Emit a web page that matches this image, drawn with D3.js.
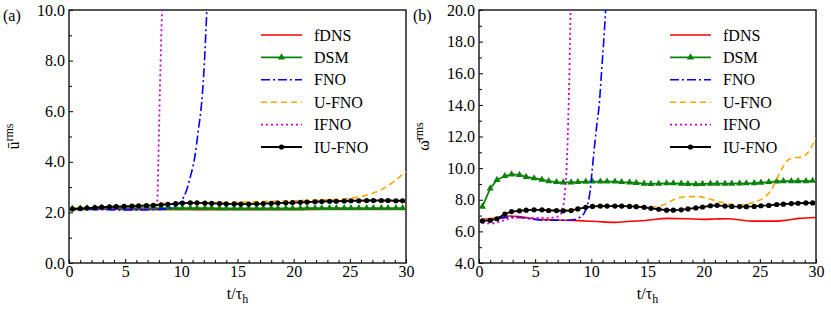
<!DOCTYPE html>
<html>
<head>
<meta charset="utf-8">
<script src="https://cdn.jsdelivr.net/npm/d3@7"></script>
<style>
body { margin: 0; background: #fff; }
text { font-family: "Liberation Serif", "Times New Roman", serif; fill: #000; }
</style>
</head>
<body>
<div id="chart"></div>
<script>
// sample times of the marked series (DSM, IU-FNO)
var tMarks = [0.3,1.0,1.6,2.3,2.9,3.6,4.2,4.9,5.6,6.2, 6.9,7.5,8.2,8.8,9.5,10.1,10.8,11.4,12.1,12.7,
	13.4,14.0,14.7,15.3,16.0,16.7,17.3,18.0,18.6,19.3, 19.9,20.6,21.2,21.9,22.5,23.2,23.8,24.5,25.1,25.8,
	26.5,27.1,27.8,28.4,29.1,29.7];

// panel (a): u rms
var uFDNS = [[0.3,2.15],[3,2.13],[6,2.12],[9,2.12],[12,2.11],[15,2.12],[18,2.12],[21,2.12],[24,2.13],[27,2.13],[30,2.15]];
var uDSM = [2.15,2.16,2.17,2.17,2.18,2.18,2.18,2.17,2.17,2.17, 2.17,2.17,2.17,2.17,2.17,2.17,2.17,2.17,2.17,2.17,
	2.16,2.16,2.16,2.16,2.16,2.16,2.16,2.16,2.16,2.16, 2.16,2.16,2.17,2.17,2.17,2.17,2.17,2.17,2.17,2.17,
	2.17,2.17,2.17,2.17,2.17,2.17];
var uFNO = [[0.3,2.15],[2,2.12],[4,2.1],[6,2.1],[8,2.12],[9,2.18],[9.6,2.3],[10,2.45],[10.4,2.8],[10.8,3.4],
	[11.2,4.2],[11.5,5.2],[11.8,6.3],[12.0,7.5],[12.15,8.8],[12.3,10.3]];
var uUFNO = [[0.3,2.15],[3,2.22],[6,2.28],[9,2.35],[12,2.38],[15,2.4],[18,2.44],[21,2.47],[23,2.5],[25,2.56],
	[26.5,2.68],[28,2.95],[29,3.25],[30,3.62]];
var uIFNO = [[0.3,2.15],[3,2.15],[6,2.15],[7.6,2.15],[7.85,2.4],[7.95,4],[8.1,7],[8.3,10.3]];
var uIUFNO = [2.13,2.15,2.17,2.19,2.21,2.22,2.23,2.24,2.25,2.26, 2.27,2.28,2.3,2.32,2.35,2.37,2.38,2.38,2.37,2.36,
	2.35,2.34,2.34,2.33,2.33,2.34,2.35,2.36,2.37,2.38, 2.39,2.4,2.41,2.42,2.43,2.44,2.44,2.45,2.46,2.46,
	2.47,2.47,2.47,2.47,2.46,2.46];

// panel (b): omega rms
var wFDNS = [[0.3,6.76],[1.5,6.85],[2.7,6.97],[3.6,6.93],[5.3,6.76],[7,6.72],[8.8,6.68],[10.5,6.62],[12,6.57],
	[13.5,6.64],[14.8,6.69],[16.8,6.82],[18.5,6.8],[19.9,6.76],[21,6.78],[22.2,6.8],[23.3,6.72],[24.3,6.65],
	[26.5,6.65],[27.5,6.72],[28.5,6.82],[30,6.88]];
var wDSM = [7.56,8.72,9.25,9.5,9.6,9.57,9.45,9.36,9.27,9.18, 9.12,9.1,9.1,9.12,9.14,9.15,9.15,9.15,9.15,9.12,
	9.1,9.06,9.02,9.0,9.02,9.04,9.04,9.02,9.0,8.98, 9.0,9.02,9.02,9.02,9.02,9.03,9.04,9.05,9.08,9.12,
	9.16,9.18,9.18,9.18,9.18,9.2];
var wFNO = [[0.3,6.7],[1.5,6.8],[3,6.9],[4,6.85],[5,6.75],[6,6.7],[7.5,6.7],[8.5,6.75],[9.0,6.9],[9.4,7.2],
	[9.7,7.8],[9.9,8.6],[10.05,9.7],[10.3,11.5],[10.5,12.8],[10.7,14],[10.9,16],[11.1,18],[11.3,20.3]];
var wUFNO = [[0.3,6.7],[1.5,6.85],[2.5,7.15],[3.5,7.3],[5,7.35],[7,7.35],[8.5,7.4],[10,7.55],[12,7.6],[14,7.6],
	[15.5,7.55],[16.5,7.7],[17.5,8.05],[18.5,8.2],[19.5,8.2],[20.5,8.05],[21.5,7.85],[22.5,7.7],[23.5,7.68],
	[24.5,7.85],[25.5,8.2],[26,8.6],[26.5,9.3],[27,10.0],[27.5,10.5],[28,10.65],[28.7,10.7],[29.3,11.0],[30,11.9]];
var wIFNO = [[0.3,6.55],[1,6.5],[2,6.65],[3,6.85],[4,6.85],[5,6.85],[6,6.85],[6.8,6.9],[7.2,7.0],[7.45,7.5],
	[7.6,8.1],[7.7,9],[7.8,10],[7.9,12],[7.98,14],[8.05,16],[8.1,18],[8.17,20.3]];
var wIUFNO = [6.66,6.7,6.8,7.1,7.25,7.3,7.34,7.36,7.36,7.32, 7.32,7.3,7.32,7.42,7.52,7.58,7.6,7.6,7.6,7.6,
	7.58,7.56,7.52,7.46,7.4,7.34,7.34,7.36,7.42,7.48, 7.54,7.62,7.65,7.6,7.58,7.57,7.56,7.58,7.62,7.64,
	7.7,7.72,7.76,7.78,7.8,7.8];

var legendNames = ["fDNS", "DSM", "FNO", "U-FNO", "IFNO", "IU-FNO"];
var xTicks = [0, 5, 10, 15, 20, 25, 30];
var uTicks = [0, 2, 4, 6, 8, 10];
var wTicks = [4, 6, 8, 10, 12, 14, 16, 18, 20];

var styles = {
	"fDNS":   {color: "#ff0000", dash: null, width: 1.6},
	"DSM":    {color: "#0a820a", dash: null, width: 1.8, marker: "triangle"},
	"FNO":    {color: "#0000ff", dash: "9,3,2,3", width: 1.6},
	"U-FNO":  {color: "#ffa500", dash: "6,4", width: 1.6},
	"IFNO":   {color: "#cc00cc", dash: "2,3", width: 1.8},
	"IU-FNO": {color: "#000000", dash: null, width: 1.8, marker: "circle"}
};

function zipMarks(vals) { return vals.map(function(v, i) { return [tMarks[i], v]; }); }

var panels = [
	{id: "a", left: 69, right: 406, yDomain: [0, 10], yTicks: uTicks, yMinor: [1,3,5,7,9],
		ySym: "u\u0304", legendX: 261,
		series: {"fDNS": uFDNS, "DSM": zipMarks(uDSM), "FNO": uFNO, "U-FNO": uUFNO, "IFNO": uIFNO, "IU-FNO": zipMarks(uIUFNO)}},
	{id: "b", left: 479, right: 816, yDomain: [4, 20], yTicks: wTicks, yMinor: [5,7,9,11,13,15,17,19],
		ySym: "\u03c9\u0304", legendX: 670,
		series: {"fDNS": wFDNS, "DSM": zipMarks(wDSM), "FNO": wFNO, "U-FNO": wUFNO, "IFNO": wIFNO, "IU-FNO": zipMarks(wIUFNO)}}
];

var plotTop = 10, plotBottom = 263;

var svg = d3.select("#chart")
	.append("svg")
	.attr("width", 831)
	.attr("height", 312);

var triangle = d3.symbol().type(d3.symbolTriangle).size(22);

panels.forEach(function(p) {
	var xScale = d3.scaleLinear().domain([0, 30]).range([p.left, p.right]);
	var yScale = d3.scaleLinear().domain(p.yDomain).range([plotBottom, plotTop]);

	svg.append("clipPath").attr("id", "clip-" + p.id)
		.append("rect")
		.attr("x", p.left).attr("y", plotTop)
		.attr("width", p.right - p.left).attr("height", plotBottom - plotTop);

	// minor ticks
	svg.append("g")
		.attr("transform", "translate(0," + plotBottom + ")")
		.call(d3.axisBottom(xScale).tickValues(d3.range(1, 30).filter(function(d) { return d % 5; }))
			.tickSize(-3).tickFormat(""))
		.call(function(g) { g.select(".domain").remove(); g.selectAll("line").attr("stroke-width", 1); });
	svg.append("g")
		.attr("transform", "translate(" + p.left + ",0)")
		.call(d3.axisLeft(yScale).tickValues(p.yMinor).tickSize(-3).tickFormat(""))
		.call(function(g) { g.select(".domain").remove(); g.selectAll("line").attr("stroke-width", 1); });

	// major axes
	var xAxis = svg.append("g")
		.attr("transform", "translate(0," + plotBottom + ")")
		.call(d3.axisBottom(xScale).tickValues(xTicks).tickSize(-4).tickSizeOuter(0).tickPadding(3));
	xAxis.select(".domain").remove();
	xAxis.selectAll("line").attr("stroke-width", 1);
	xAxis.selectAll("text").style("font-size", "16px").attr("font-family", null);

	var yAxis = svg.append("g")
		.attr("transform", "translate(" + p.left + ",0)")
		.call(d3.axisLeft(yScale).tickValues(p.yTicks).tickSize(-4).tickSizeOuter(0).tickPadding(4)
			.tickFormat(d3.format(".1f")));
	yAxis.select(".domain").remove();
	yAxis.selectAll("line").attr("stroke-width", 1);
	yAxis.selectAll("text").style("font-size", "16px").attr("font-family", null);

	// frame
	svg.append("rect")
		.attr("x", p.left).attr("y", plotTop)
		.attr("width", p.right - p.left).attr("height", plotBottom - plotTop)
		.attr("fill", "none").attr("stroke", "#111").attr("stroke-width", 1.4);

	var plot = svg.append("g").attr("clip-path", "url(#clip-" + p.id + ")");

	var smooth = d3.line()
		.x(function(d) { return xScale(d[0]); })
		.y(function(d) { return yScale(d[1]); })
		.curve(d3.curveMonotoneX);
	var straight = d3.line()
		.x(function(d) { return xScale(d[0]); })
		.y(function(d) { return yScale(d[1]); });

	["fDNS", "DSM", "FNO", "U-FNO", "IFNO", "IU-FNO"].forEach(function(name) {
		var st = styles[name], data = p.series[name];
		plot.append("path")
			.attr("d", st.marker ? straight(data) : smooth(data))
			.attr("fill", "none")
			.attr("stroke", st.color)
			.attr("stroke-width", st.width)
			.attr("stroke-dasharray", st.dash);
		if (st.marker == "circle") {
			plot.selectAll("circle.m-" + p.id)
				.data(data).enter()
				.append("circle")
				.attr("class", "m-" + p.id)
				.attr("cx", function(d) { return xScale(d[0]); })
				.attr("cy", function(d) { return yScale(d[1]); })
				.attr("r", 2.6)
				.attr("fill", st.color);
		} else if (st.marker == "triangle") {
			plot.selectAll("path.t-" + p.id)
				.data(data).enter()
				.append("path")
				.attr("class", "t-" + p.id)
				.attr("d", triangle)
				.attr("transform", function(d) { return "translate(" + xScale(d[0]) + "," + yScale(d[1]) + ")"; })
				.attr("fill", st.color);
		}
	});

	// legend
	var lg = svg.append("g").attr("transform", "translate(" + p.legendX + ",35)");
	legendNames.forEach(function(name, i) {
		var st = styles[name], y = i * 22.4;
		lg.append("line")
			.attr("x1", 0).attr("x2", 41).attr("y1", y).attr("y2", y)
			.attr("stroke", st.color).attr("stroke-width", st.width)
			.attr("stroke-dasharray", st.dash);
		if (st.marker == "circle") {
			lg.append("circle").attr("cx", 20.5).attr("cy", y).attr("r", 2.6).attr("fill", st.color);
		} else if (st.marker == "triangle") {
			lg.append("path").attr("d", triangle).attr("transform", "translate(20.5," + y + ")").attr("fill", st.color);
		}
		lg.append("text")
			.attr("x", 53).attr("y", y + 5.5)
			.style("font-size", "16px")
			.text(name);
	});

	// panel label
	svg.append("text")
		.attr("x", p.left - 66).attr("y", 21)
		.style("font-size", "16px")
		.text("(" + p.id + ")");

	// x label
	var xl = svg.append("text")
		.attr("x", (p.left + p.right) / 2).attr("y", 299)
		.attr("text-anchor", "middle")
		.style("font-size", "16px");
	xl.append("tspan").text("t/\u03c4");
	xl.append("tspan").attr("dy", 4).style("font-size", "12px").text("h");

	// y label
	var yl = svg.append("text")
		.attr("transform", "translate(" + (p.left - 50) + "," + ((plotTop + plotBottom) / 2) + ") rotate(-90)")
		.attr("text-anchor", "middle")
		.style("font-size", "16px");
	yl.append("tspan").text(p.ySym);
	yl.append("tspan").attr("dy", -6).style("font-size", "12px").text("rms");
});
</script>
</body>
</html>
